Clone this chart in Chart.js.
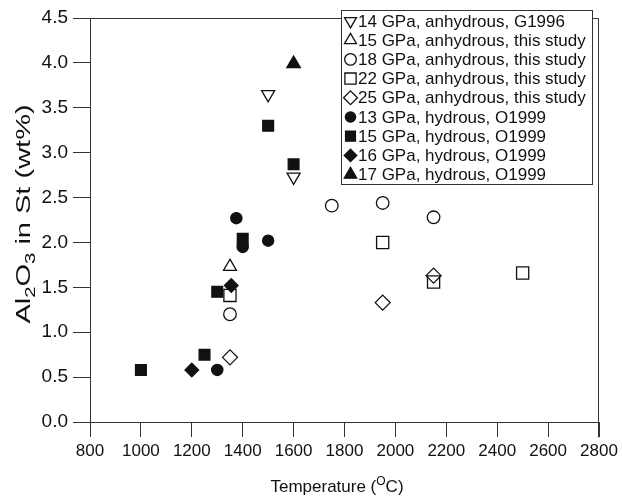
<!DOCTYPE html>
<html><head><meta charset="utf-8">
<script src="https://cdn.jsdelivr.net/npm/chart.js@4.4.1/dist/chart.umd.min.js"></script>
<style>html,body{margin:0;padding:0;background:#fff}</style>
</head><body>
<canvas id="c" width="622" height="498"></canvas>
<script>
// ---- data ----
const seriesLabels = [
  '14 GPa, anhydrous, G1996',
  '15 GPa, anhydrous, this study',
  '18 GPa, anhydrous, this study',
  '22 GPa, anhydrous, this study',
  '25 GPa, anhydrous, this study',
  '13 GPa, hydrous, O1999',
  '15 GPa, hydrous, O1999',
  '16 GPa, hydrous, O1999',
  '17 GPa, hydrous, O1999'
];
const tempA14 = [1500, 1600];             const alA14 = [3.65, 2.73];
const tempA15 = [1350];                   const alA15 = [1.73];
const tempA18 = [1350, 1750, 1950, 2150]; const alA18 = [1.20, 2.41, 2.44, 2.28];
const tempA22 = [1350, 1950, 2150, 2500]; const alA22 = [1.41, 2.00, 1.56, 1.66];
const tempA25 = [1350, 1950, 2150];       const alA25 = [0.72, 1.33, 1.63];
const tempH13 = [1300, 1375, 1400, 1500]; const alH13 = [0.58, 2.27, 1.95, 2.02];
const tempH15 = [1000, 1250, 1300, 1400, 1500, 1600]; const alH15 = [0.58, 0.75, 1.45, 2.04, 3.30, 2.87];
const tempH16 = [1200, 1355];             const alH16 = [0.58, 1.52];
const tempH17 = [1600];                   const alH17 = [3.99];
const xTicks = [800, 1000, 1200, 1400, 1600, 1800, 2000, 2200, 2400, 2600, 2800];
const yTicks = [0.0, 0.5, 1.0, 1.5, 2.0, 2.5, 3.0, 3.5, 4.0, 4.5];

const seriesTemps = [tempA14, tempA15, tempA18, tempA22, tempA25, tempH13, tempH15, tempH16, tempH17];
const seriesAl = [alA14, alA15, alA18, alA22, alA25, alH13, alH15, alH16, alH17];

// ---- styles ----
const FONT = '"Liberation Sans", Arial, Helvetica, sans-serif';
const INK = '#111';
const markerStyles = [
  {pointStyle: 'triangle', radius: 7.5, rotation: 180, filled: false},
  {pointStyle: 'triangle', radius: 7.5, rotation: 0, filled: false},
  {pointStyle: 'circle', radius: 6.3, rotation: 0, filled: false},
  {pointStyle: 'rect', radius: 8.6, rotation: 0, filled: false},
  {pointStyle: 'rectRot', radius: 7.5, rotation: 0, filled: false},
  {pointStyle: 'circle', radius: 5.6, rotation: 0, filled: true},
  {pointStyle: 'rect', radius: 7.6, rotation: 0, filled: true},
  {pointStyle: 'rectRot', radius: 6.8, rotation: 0, filled: true},
  {pointStyle: 'triangle', radius: 7.8, rotation: 0, filled: true}
];

const datasets = seriesLabels.map((label, i) => {
  const st = markerStyles[i];
  return {
    label,
    data: seriesTemps[i].map((t, j) => ({x: t, y: seriesAl[i][j]})),
    pointStyle: st.pointStyle,
    pointRadius: st.radius,
    pointHoverRadius: st.radius,
    pointRotation: st.rotation,
    pointBorderWidth: 1.3,
    pointBorderColor: INK,
    pointBackgroundColor: st.filled ? INK : 'rgba(255,255,255,0)',
    showLine: false
  };
});

const decor = {
  id: 'decor',
  beforeDatasetsDraw(chart) {
    const {ctx, chartArea: a} = chart;
    ctx.save();
    ctx.strokeStyle = '#333';
    ctx.lineWidth = 1;
    const l = Math.round(a.left) + 0.5, t = Math.round(a.top) + 0.5;
    const r = Math.round(a.right) - 0.5, b = Math.round(a.bottom) - 0.5;
    ctx.beginPath();
    ctx.moveTo(l, t); ctx.lineTo(r, t); ctx.lineTo(r, b + 16);
    ctx.stroke();
    ctx.restore();
  },
  afterDraw(chart) {
    const {ctx} = chart;
    ctx.save();
    // legend box
    const bx = 341, by = 10, bw = 251, bh = 174;
    ctx.fillStyle = '#fff';
    ctx.fillRect(bx, by, bw, bh);
    ctx.strokeStyle = '#333';
    ctx.lineWidth = 1;
    ctx.strokeRect(bx + 0.5, by + 0.5, bw, bh);
    ctx.font = '17px ' + FONT;
    ctx.textBaseline = 'middle';
    ctx.textAlign = 'left';
    seriesLabels.forEach((lab, i) => {
      const st = markerStyles[i];
      const y = by + 11 + i * 19.2;
      const x = bx + 9.5;
      ctx.lineWidth = 1.3;
      ctx.strokeStyle = INK;
      ctx.fillStyle = st.filled ? INK : '#fff';
      Chart.helpers.drawPoint(ctx, {
        pointStyle: st.pointStyle, radius: st.radius * 0.92,
        rotation: st.rotation, borderWidth: 1.3
      }, x, y);
      ctx.fillStyle = INK;
      ctx.fillText(lab, bx + 17, y + 1);
    });
    // x title
    ctx.fillStyle = INK;
    ctx.textBaseline = 'alphabetic';
    const main = '17px ' + FONT, small = '12px ' + FONT;
    const parts = [['Temperature (', main, 0], ['O', small, -7], ['C)', main, 0]];
    let tw = 0;
    parts.forEach(p => { ctx.font = p[1]; tw += ctx.measureText(p[0]).width; });
    let x0 = 337 - tw / 2;
    parts.forEach(p => { ctx.font = p[1]; ctx.fillText(p[0], x0, 492 + p[2]); x0 += ctx.measureText(p[0]).width; });
    // y title
    const ymain = '20px ' + FONT, ysmall = '14px ' + FONT;
    ctx.translate(30, 214);
    ctx.rotate(-Math.PI / 2);
    ctx.scale(1.45, 1);
    const yparts = [['Al', ymain, 0], ['2', ysmall, 5], ['O', ymain, 0], ['3', ysmall, 5], [' in St (wt%)', ymain, 0]];
    tw = 0;
    yparts.forEach(p => { ctx.font = p[1]; tw += ctx.measureText(p[0]).width; });
    x0 = -tw / 2;
    yparts.forEach(p => { ctx.font = p[1]; ctx.fillText(p[0], x0, p[2]); x0 += ctx.measureText(p[0]).width; });
    ctx.restore();
  }
};

new Chart(document.getElementById('c'), {
  type: 'scatter',
  data: {datasets},
  options: {
    responsive: false,
    animation: false,
    events: [],
    layout: {padding: {top: 18, right: 23, left: 0, bottom: 0}},
    plugins: {legend: {display: false}, tooltip: {enabled: false}, title: {display: false}},
    scales: {
      x: {
        type: 'linear', min: 800, max: 2800,
        afterFit(s) { s.height = 76; },
        afterBuildTicks(s) { s.ticks = xTicks.map(v => ({value: v})); },
        ticks: {font: {size: 17, family: FONT}, color: INK, padding: 4, maxRotation: 0, autoSkip: false,
                callback: v => String(v)},
        grid: {display: true, drawOnChartArea: false, drawTicks: true, tickLength: 15, color: '#333', lineWidth: 1},
        border: {display: true, color: '#333', width: 1},
        title: {display: false}
      },
      y: {
        type: 'linear', min: 0, max: 4.5,
        afterFit(s) { s.width = 90; },
        afterBuildTicks(s) { s.ticks = yTicks.map(v => ({value: v})); },
        ticks: {font: {size: 19, family: FONT}, color: INK, padding: 5, callback: v => Number(v).toFixed(1), autoSkip: false},
        grid: {display: true, drawOnChartArea: false, drawTicks: true, tickLength: 17, color: '#333', lineWidth: 1},
        border: {display: true, color: '#333', width: 1},
        title: {display: false}
      }
    }
  },
  plugins: [decor]
});
</script>
</body></html>
